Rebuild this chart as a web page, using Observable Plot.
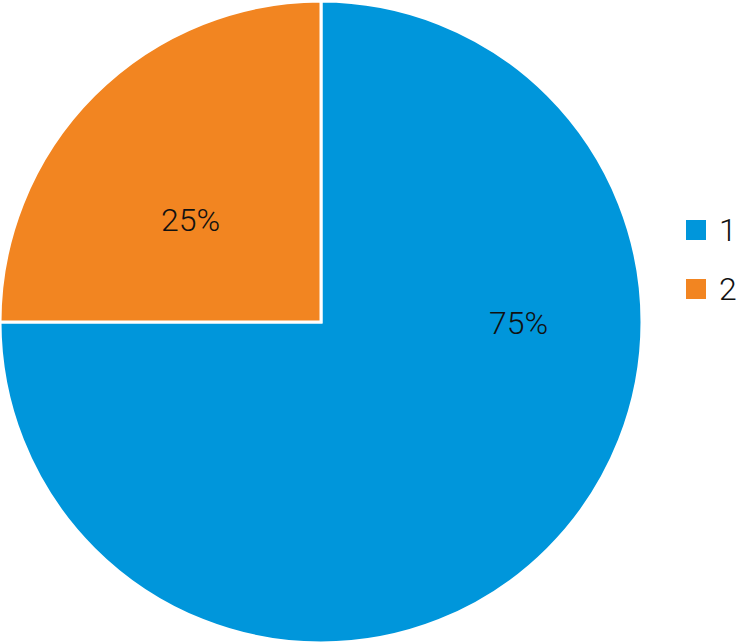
<!DOCTYPE html>
<html>
<head>
<meta charset="utf-8">
<script src="https://cdn.jsdelivr.net/npm/d3@7"></script>
<script src="https://cdn.jsdelivr.net/npm/@observablehq/plot@0.6"></script>
<style>
  body { margin: 0; background: #fff; font-family: Roboto, "Open Sans", sans-serif; }
  #wrap { position: relative; width: 739px; height: 644px; }
  .sw { position: absolute; left: 686px; width: 20px; height: 20px; }
  .lt { position: absolute; left: 719px; height: 20px; line-height: 20px; font-size: 32px; font-weight: 300; color: #111; }
</style>
</head>
<body>
<div id="wrap"></div>
<script>
const categories = ["1", "2"];
const values = [75, 25];
const labels = ["75%", "25%"];
const colors = ["#0096DB", "#F28521"];

// layout: label anchor positions (unit-circle coords)
const labelPos = [[0.614, -0.003], [-0.408, 0.318]];
// layout: legend item tops (px)
const legendTops = [220, 279];

const data = categories.map((c, i) => ({category: c, value: values[i], label: labels[i], lx: labelPos[i][0], ly: labelPos[i][1]}));
const arcs = d3.pie().sort(null).value(d => d.value)(data);

function pieMark(index, scales) {
  const {x, y} = scales;
  const cx = x(0), cy = y(0);
  const r = x(1) - x(0);
  const arc = d3.arc().innerRadius(0).outerRadius(r);
  const g = d3.create("svg:g").attr("transform", `translate(${cx},${cy})`);
  g.selectAll("path").data(arcs).join("path")
    .attr("d", arc)
    .attr("fill", d => colors[categories.indexOf(d.data.category)])
    .attr("stroke", "#fff")
    .attr("stroke-width", 3)
    .attr("stroke-linejoin", "miter");
  return g.node();
}

const chart = Plot.plot({
  width: 739,
  height: 644,
  marginLeft: 0,
  marginRight: 97,
  marginTop: 1,
  marginBottom: 1,
  style: {fontFamily: "Roboto, sans-serif"},
  x: {domain: [-1, 1], axis: null},
  y: {domain: [-1, 1], axis: null},
  marks: [
    pieMark,
    Plot.text(data, {x: "lx", y: "ly", text: "label", fontSize: 32, fill: "#111", fontWeight: 300, fontFamily: "Roboto"})
  ]
});
const wrap = document.getElementById("wrap");
wrap.appendChild(chart);

categories.forEach((c, i) => {
  d3.select(wrap).append("div").attr("class", "sw").style("top", legendTops[i] + "px").style("background", colors[i]);
  d3.select(wrap).append("div").attr("class", "lt").style("top", legendTops[i] + "px").text(c);
});
</script>
</body>
</html>
